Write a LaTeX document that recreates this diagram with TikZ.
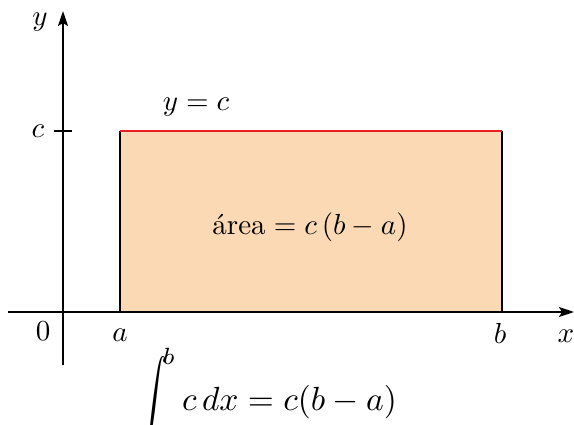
\documentclass[tikz,border=0pt]{standalone}
\usetikzlibrary{arrows.meta}
\definecolor{peach}{RGB}{250,217,180}
\definecolor{redline}{RGB}{230,30,40}
\begin{document}
\begin{tikzpicture}[x=1pt,y=-1pt,
  axis/.style={line width=2pt,-{Stealth[length=15pt,width=10pt,inset=3pt]}},
  edge/.style={line width=2pt},
  lbl/.style={scale=2.9, inner sep=0pt},
  big/.style={scale=3.35, inner sep=0pt, anchor=base}]
\useasboundingbox (0,0) rectangle (574,425);
% coordinates
\coordinate (xl) at (8,312);
\coordinate (xr) at (574,312);
\coordinate (yb) at (63,365);
\coordinate (yt) at (63,11);
\coordinate (A) at (120,312);
\coordinate (B) at (502,312);
\coordinate (C) at (502,131);
\coordinate (D) at (120,131);
\coordinate (tl) at (54,131);
\coordinate (tr) at (72,131);
% rectangle
\fill[peach] (A) rectangle (C);
\draw[edge] (A) -- (D);
\draw[edge] (B) -- (C);
\draw[line width=2.5pt, redline] (D) -- (C);
% axes
\draw[axis] (xl) -- (xr);
\draw[axis] (yb) -- (yt);
\draw[edge] (tl) -- (tr);
% labels
\node[lbl] (ylab) at (40,22) {$y$};
\node[lbl] (clab) at (38,131) {$c$};
\node[lbl] (eq) at (196,107) {$y=c$};
\node[lbl] (zero) at (43,331) {$0$};
\node[lbl] (alab) at (120,335) {$a$};
\node[lbl] (blab) at (500,333) {$b$};
\node[lbl] (xlab) at (566,336) {$x$};
\node[lbl] (area) at (310,227) {\'area${}=c\,(b-a)$};
\node[big] (integ) at (268,410) {$\mathop{\raisebox{-0.55ex}{\scalebox{0.85}[1.35]{$\displaystyle\int$}}}\nolimits_{\!\!a}^{\!b}c\,dx=c(b-a)$};
\end{tikzpicture}
\end{document}
